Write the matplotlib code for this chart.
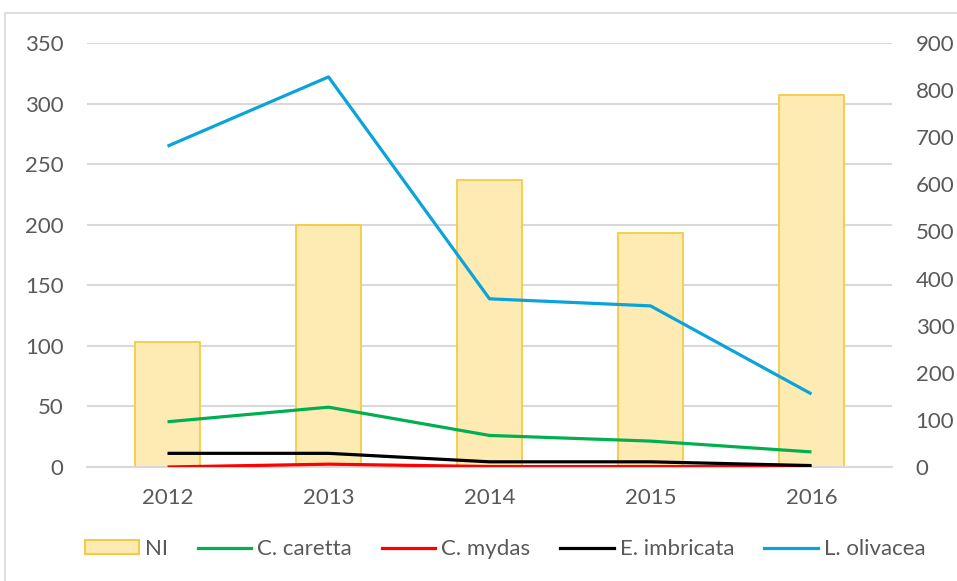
import matplotlib
matplotlib.use("Agg")
import matplotlib.pyplot as plt
from matplotlib.patches import Rectangle, Patch
from matplotlib.lines import Line2D

years = ["2012", "2013", "2014", "2015", "2016"]
ni = [103, 200, 237, 193, 307]
c_caretta = [96, 127, 67, 55, 32]
c_mydas = [0, 6, 1, 1, 1]
e_imbricata = [29, 29, 11, 11, 3]
l_olivacea = [681, 828, 357, 342, 155]

left_ticks = [0, 50, 100, 150, 200, 250, 300, 350]
right_ticks = [0, 100, 200, 300, 400, 500, 600, 700, 800, 900]

plt.rcParams['font.family'] = ['Lato', 'DejaVu Sans']
txt = '#595959'
grid = '#d9d9d9'
fs = 16

fig = plt.figure(figsize=(9.57, 5.81), dpi=100)
fig.patches.append(Rectangle((5/957, -0.1), 1.2, 0.1 + (581-13)/581, transform=fig.transFigure,
                             fill=False, edgecolor=grid, linewidth=1.2))
ax = fig.add_axes([87/957, 1-467/581, (892-87)/957, (467-43)/581])
x = list(range(len(years)))
ax.bar(x, ni, width=0.4, color='#FEEBB3', edgecolor='#F5CB45', linewidth=1.3, zorder=2)
ax.set_xlim(-0.5, 4.5)
ax.set_ylim(0, 350)
ax.set_yticks(left_ticks)
ax.set_xticks(x)
ax.set_xticklabels(years)
ax.grid(axis='y', color=grid, linewidth=1.5, zorder=0)
ax.set_axisbelow(True)
for s in ['top', 'right', 'left']:
    ax.spines[s].set_visible(False)
ax.spines['bottom'].set_color(grid)
ax.spines['bottom'].set_linewidth(1.5)
ax.tick_params(axis='both', length=0, colors=txt, labelsize=fs)
ax.tick_params(axis='y', pad=17)
ax.tick_params(axis='x', pad=15)

ax2 = ax.twinx()
ax2.set_ylim(0, 900)
ax2.set_yticks(right_ticks)
for s in ['top', 'right', 'left', 'bottom']:
    ax2.spines[s].set_visible(False)
ax2.tick_params(axis='y', length=0, colors=txt, labelsize=fs, pad=17)
lw = 2.3
ax2.plot(x, c_caretta, color='#00B050', lw=lw, solid_capstyle='butt')
ax2.plot(x, c_mydas, color='#FF0000', lw=lw, solid_capstyle='butt')
ax2.plot(x, e_imbricata, color='#000000', lw=lw, solid_capstyle='butt')
ax2.plot(x, l_olivacea, color='#0AA3DA', lw=lw, solid_capstyle='butt')

handles = [Patch(facecolor='#FEEBB3', edgecolor='#F5CB45', linewidth=1.5),
           Line2D([], [], color='#00B050', lw=lw),
           Line2D([], [], color='#FF0000', lw=lw),
           Line2D([], [], color='#000000', lw=lw),
           Line2D([], [], color='#0AA3DA', lw=lw)]
labels = ['NI', 'C. caretta', 'C. mydas', 'E. imbricata', 'L. olivacea']
leg = fig.legend(handles, labels, loc='center', bbox_to_anchor=(0.528, 1-549/581), ncol=5,
                 frameon=False, fontsize=fs, handlelength=2.4, handleheight=0.6,
                 handletextpad=0.27, columnspacing=1.35, labelcolor=txt)

fig.savefig('out.png', dpi=100)
